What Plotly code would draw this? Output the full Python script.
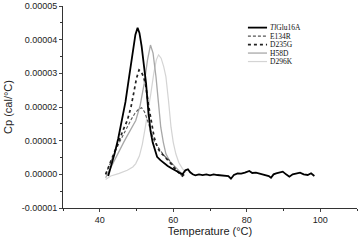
import plotly.graph_objects as go

# Data (Cp values in units of 1e-5 cal/°C)
names = ["<i>Tl</i>Glu16A", "E134R", "D235G", "H58D", "D296K"]

x_tl = [42.3, 43.0, 44.0, 45.0, 46.0, 47.0, 48.0, 49.0, 49.7, 50.3, 50.8, 51.4, 52.0, 52.6, 53.2, 53.8, 54.4, 55.0, 55.6,
        56.5, 57.5, 58.5, 59.5, 60.5, 61.5, 62.5, 63.3, 64.0, 64.6, 65.3, 66.0, 67, 68, 69, 70, 71, 72, 73, 74, 75,
        75.7, 76.5, 77.5, 78.5, 79.5, 80.7, 81.5, 82.5, 83.5, 84.5, 85.3, 86.0, 86.6, 87.3, 88.0, 89.0, 89.8, 90.7,
        91.6, 92.5, 93.4, 94.5, 95.5, 96.6, 97.5, 98.4]
y_tl = [-0.05, 0.2, 0.6, 1.05, 1.55, 2.15, 2.9, 3.7, 4.15, 4.35, 4.2, 3.8, 3.3, 2.7, 1.9, 1.3, 0.95, 0.7, 0.52,
        0.42, 0.33, 0.25, 0.18, 0.12, 0.05, 0.0, 0.12, 0.15, 0.06, 0.0, -0.03, 0.0, -0.02, 0.0, -0.03, 0.0, -0.02,
        -0.03, -0.02, -0.05, -0.13, -0.02, 0.03, 0.02, 0.05, 0.1, 0.04, 0.05, 0.02, 0.0, -0.03, -0.05, -0.1, 0.0,
        0.03, 0.05, 0.08, 0.0, -0.07, 0.0, 0.02, 0.05, 0.0, -0.02, 0.03, -0.05]

x_e134r = [41.6, 42.5, 43.5, 44.5, 45.5, 46.5, 47.5, 48.5, 49.5, 50.5, 51.4, 52.2, 53.0, 53.8, 54.6, 55.3, 56.2,
           57.2, 58.0, 58.9, 59.8, 60.7, 61.6, 62.5]
y_e134r = [0.0, 0.25, 0.5, 0.75, 0.98, 1.2, 1.42, 1.62, 1.8, 1.93, 1.98, 1.85, 1.6, 1.3, 1.05, 0.9, 0.75,
           0.6, 0.5, 0.42, 0.3, 0.15, 0.03, -0.05]

x_d235g = [41.6, 42.5, 43.4, 44.5, 45.5, 46.5, 47.5, 48.5, 49.3, 50.0, 50.7, 51.3, 51.9, 52.5, 53.2, 53.9, 54.8,
           55.7, 56.5, 57.5, 58.4, 59.5, 60.5, 61.6, 62.5, 63.0]
y_d235g = [0.0, 0.25, 0.55, 0.85, 1.1, 1.35, 1.6, 2.0, 2.45, 2.85, 3.1, 3.05, 2.9, 2.65, 2.1, 1.6, 1.1,
           0.8, 0.65, 0.55, 0.45, 0.3, 0.15, 0.03, -0.05, 0.0]

x_h58d = [41.6, 42.5, 43.5, 44.5, 45.3, 46.5, 47.5, 48.5, 49.8, 51.0, 52.1, 53.0, 53.8, 54.5, 55.3, 56.0, 56.6,
          57.3, 58.0, 59.0, 60.0, 60.7, 61.5, 62.5]
y_h58d = [-0.1, 0.1, 0.3, 0.52, 0.71, 0.95, 1.15, 1.35, 1.6, 2.05, 2.7, 3.4, 3.84, 3.6, 2.9, 2.1, 1.4,
          0.95, 0.61, 0.4, 0.28, 0.22, 0.12, 0.0]

x_d296k = [41.6, 43.0, 45.3, 47.5, 49.0, 49.8, 50.8, 51.6, 52.4, 53.2, 53.9, 54.7, 55.4, 56.0, 56.7, 57.4, 58.0,
           58.7, 59.4, 60.0, 60.7, 61.5, 62.5, 63.5]
y_d296k = [-0.15, -0.05, 0.03, 0.12, 0.22, 0.32, 0.55, 0.9, 1.4, 1.9, 2.4, 3.0, 3.4, 3.55, 3.45, 3.2, 2.9,
           2.2, 1.4, 0.95, 0.61, 0.35, 0.17, 0.05]

y_ticks = [-0.00001, 0.0, 0.00001, 0.00002, 0.00003, 0.00004, 0.00005]
y_tick_labels = ["-0.00001", "0.00000", "0.00001", "0.00002", "0.00003", "0.00004", "0.00005"]
x_ticks = [40, 60, 80, 100]

SCALE = 1e-5
styles = {
    names[0]: ("#000000", 1.8, "solid"),
    names[1]: ("#555555", 1.1, "3px,2px"),
    names[2]: ("#222222", 1.7, "dot"),
    names[3]: ("#a8a8a8", 1.3, "solid"),
    names[4]: ("#d4d4d4", 1.2, "solid"),
}
draw_order = [(names[4], x_d296k, y_d296k), (names[3], x_h58d, y_h58d), (names[1], x_e134r, y_e134r),
              (names[2], x_d235g, y_d235g), (names[0], x_tl, y_tl)]

fig = go.Figure()
for nm, xs, ys in draw_order:
    col, w, dash = styles[nm]
    fig.add_trace(go.Scatter(x=xs, y=[v * SCALE for v in ys], mode="lines", name=nm,
                             line=dict(color=col, width=w, dash=dash), showlegend=False))

# Legend drawn in paper coordinates
row_y = [0.893, 0.851, 0.809, 0.767, 0.725]
for i, nm in enumerate(names):
    col, w, dash = styles[nm]
    fig.add_shape(type="line", xref="paper", yref="paper", x0=0.629, x1=0.694, y0=row_y[i], y1=row_y[i],
                  line=dict(color=col, width=w, dash=dash))
    fig.add_annotation(xref="paper", yref="paper", x=0.700, y=row_y[i], text=nm, showarrow=False,
                       xanchor="left", yanchor="middle", borderpad=0,
                       font=dict(family="Liberation Serif", size=7.5, color="#111111"))

fig.update_layout(
    width=359, height=240,
    margin=dict(l=63, r=2, t=6, b=32),
    paper_bgcolor="white", plot_bgcolor="white",
    font=dict(family="Liberation Sans", color="#222222"),
)
fig.update_xaxes(range=[30, 110], tickvals=x_ticks, ticks="outside", ticklen=3, tickwidth=1,
                 showline=True, linecolor="#333333", linewidth=1, showgrid=False, zeroline=False,
                 tickfont=dict(size=9), title=dict(text="Temperature (°C)", font=dict(size=11), standoff=2),
                 minor=dict(dtick=10, ticks="outside", ticklen=2, tickcolor="#333333"))
fig.update_yaxes(range=[-0.00001, 0.00005], tickvals=y_ticks, ticktext=y_tick_labels, ticks="outside",
                 ticklen=3, tickwidth=1, showline=True, linecolor="#333333", linewidth=1, showgrid=False,
                 zeroline=False, tickfont=dict(size=9),
                 title=dict(text="Cp (cal/°C)", font=dict(size=11), standoff=6),
                 minor=dict(dtick=0.000005, ticks="outside", ticklen=2, tickcolor="#333333"))

fig.write_html("out.html", config={"displayModeBar": False},
               post_script="document.body.style.margin='0';")
